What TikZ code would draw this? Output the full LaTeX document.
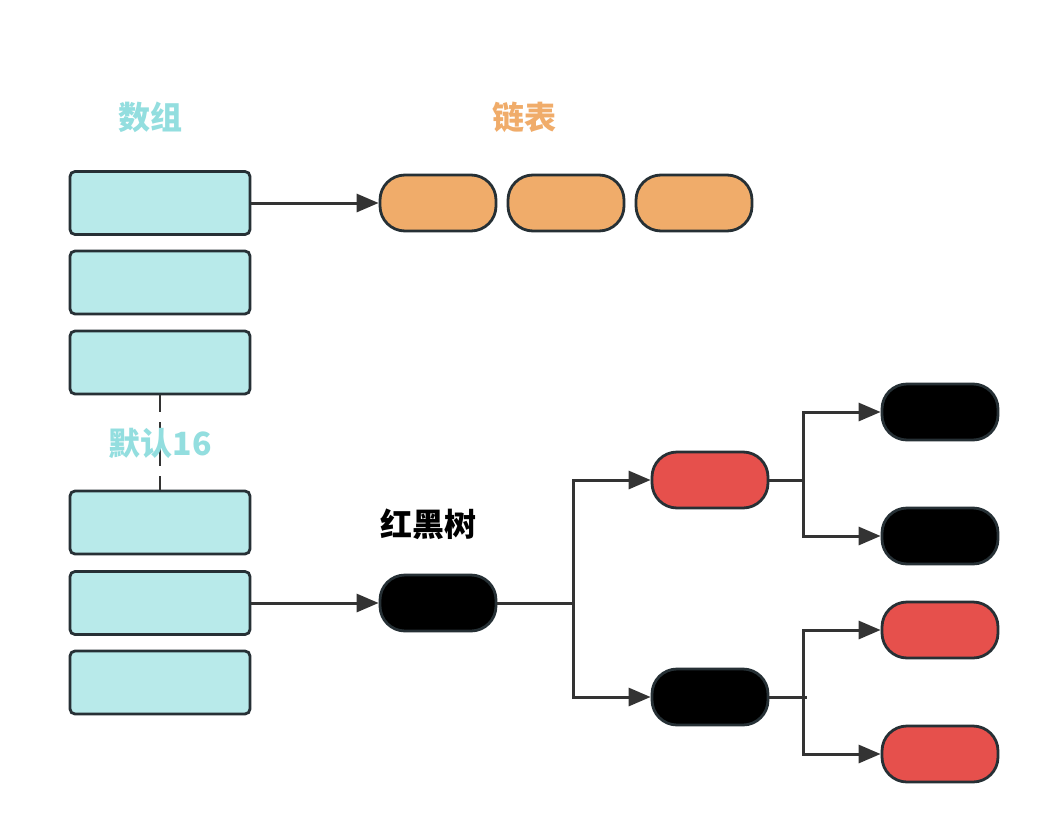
\documentclass[tikz,border=0pt]{standalone}
\usepackage{fontspec}
\newfontfamily\cjk{Noto Sans CJK SC}
\usetikzlibrary{arrows.meta}
\definecolor{arrfill}{HTML}{B8EAEA}
\definecolor{arrtitle}{HTML}{93DEDF}
\definecolor{lnkfill}{HTML}{F0AC6A}
\definecolor{rbred}{HTML}{E6504C}
\definecolor{edge}{HTML}{263035}
\definecolor{conn}{HTML}{333333}
\begin{document}
\begin{tikzpicture}[x=1pt,y=-1pt,
  cell/.style={draw=edge,line width=2.8pt,fill=arrfill,rounded corners=5pt,minimum width=180pt,minimum height=63pt,inner sep=0pt},
  pill/.style={draw=edge,line width=2.8pt,rounded corners=25pt,minimum width=116pt,minimum height=56pt,inner sep=0pt},
  lnode/.style={pill,fill=lnkfill},
  bnode/.style={pill,fill=black},
  rnode/.style={pill,fill=rbred},
  conline/.style={draw=conn,line width=3pt},
  arr/.style={conline,-{Triangle[length=22pt,width=18pt]}},
  title/.style={font=\cjk\bfseries\fontsize{32}{38}\selectfont,inner sep=0pt}
]
\useasboundingbox[fill=white] (0,0) rectangle (1048,832);
% titles
\node[title,text=arrtitle] (tArr) at (150,117) {数组};
\node[title,text=lnkfill] (tLnk) at (524,117) {链表};
\node[title,text=black] (tRb) at (428,524) {红黑树};
% array cells
\node[cell] (a1) at (160,203) {};
\node[cell] (a2) at (160,282.5) {};
\node[cell] (a3) at (160,362.5) {};
\node[cell] (a4) at (160,522.5) {};
\node[cell] (a5) at (160,603) {};
\node[cell] (a6) at (160,682.5) {};
% dashed gap
\draw[conn,line width=2.8pt,dash pattern=on 17pt off 10pt] (a3.south) -- (a4.north);
\node[title,text=arrtitle] (tDef) at (160,443) {默认16};
% linked list
\node[lnode] (l1) at (438,203) {};
\node[lnode] (l2) at (566,203) {};
\node[lnode] (l3) at (694,203) {};
\draw[arr] (a1.east) -- (l1.west);
% red-black tree
\node[bnode] (r0) at (438,603) {};
\node[rnode] (r1) at (710,480) {};
\node[bnode] (r2) at (710,697) {};
\node[bnode] (k1) at (940,412) {};
\node[bnode] (k2) at (940,536) {};
\node[rnode] (k3) at (940,630) {};
\node[rnode] (k4) at (940,754) {};
\draw[arr] (a5.east) -- (r0.west);
\coordinate (j0) at (573,603);
\coordinate (j1) at (803,480);
\coordinate (j2) at (803,697);
\draw[conline] (r0.east) -- (j0);
\draw[arr] (j0) |- (r1.west);
\draw[arr] (j0) |- (r2.west);
\draw[conline] (r1.east) -- (j1);
\draw[arr] (j1) |- (k1.west);
\draw[arr] (j1) |- (k2.west);
\draw[conline] (r2.east) -- ([xshift=4pt]j2);
\draw[arr] (j2) |- (k3.west);
\draw[arr] (j2) |- (k4.west);
\end{tikzpicture}
\end{document}
